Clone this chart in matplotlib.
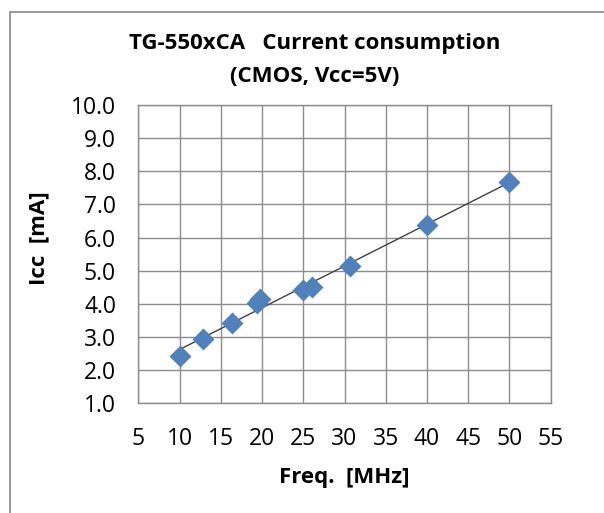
import numpy as np
import matplotlib
matplotlib.use("Agg")
import matplotlib.pyplot as plt
from matplotlib.patches import Rectangle

freq = [10.0, 12.8, 16.4, 19.35, 19.8, 25.0, 26.0, 30.7, 40.0, 50.0]
icc = [2.44, 2.95, 3.42, 4.02, 4.14, 4.42, 4.52, 5.15, 6.39, 7.68]
xticks = [5, 10, 15, 20, 25, 30, 35, 40, 45, 50, 55]
yticks = [1.0, 2.0, 3.0, 4.0, 5.0, 6.0, 7.0, 8.0, 9.0, 10.0]
title1 = "TG-550xCA   Current consumption"
title2 = "(CMOS, Vcc=5V)"
xlabel = "Freq.  [MHz]"
ylabel = "Icc  [mA]"

plt.rcParams['font.family'] = ['Open Sans', 'DejaVu Sans']

W, H = 604, 513
fig = plt.figure(figsize=(W / 100, H / 100), dpi=100)

# outer chart border
fig.patches.append(Rectangle((10 / W, -0.1), 1.2, (H - 12) / H + 0.1,
                             transform=fig.transFigure, fill=False,
                             edgecolor='#878787', linewidth=1.2))

left, right, top, bottom = 138.3, 550.7, 105, 403.3
ax = fig.add_axes([left / W, 1 - bottom / H, (right - left) / W, (bottom - top) / H])

ax.set_xlim(5, 55)
ax.set_ylim(1, 10)
ax.set_xticks(xticks)
ax.set_yticks(yticks)
ax.set_yticklabels([f"{v:.1f}" for v in yticks])
ax.grid(True, color='#8c8c8c', linewidth=1.0)
ax.set_axisbelow(True)
for s in ax.spines.values():
    s.set_color('#8c8c8c')
    s.set_linewidth(1.0)
ax.tick_params(length=0, labelsize=16.5, colors='black')
ax.tick_params(axis='y', pad=16)
ax.tick_params(axis='x', pad=17)

coef = np.polyfit(freq, icc, 1)
xl = np.array([min(freq), max(freq)])
ax.plot(xl, np.polyval(coef, xl), color='#404040', linewidth=1.0, zorder=2)
ax.scatter(freq, icc, marker='D', s=125, color='#4f81bd', zorder=3, linewidths=0)

cx = 315 / W
fig.text(cx, 1 - 44 / H, title1, ha='center', va='center', fontsize=16, fontweight='bold')
fig.text(cx, 1 - 77 / H, title2, ha='center', va='center', fontsize=16, fontweight='bold')
fig.text(0.5 * (left + right) / W, 1 - 478 / H, xlabel,
         ha='center', va='center', fontsize=16, fontweight='bold')
fig.text(39 / W, 1 - 238 / H, ylabel, rotation=90,
         ha='center', va='center', fontsize=16, fontweight='bold')

fig.savefig("out.png", dpi=100, facecolor='white')
